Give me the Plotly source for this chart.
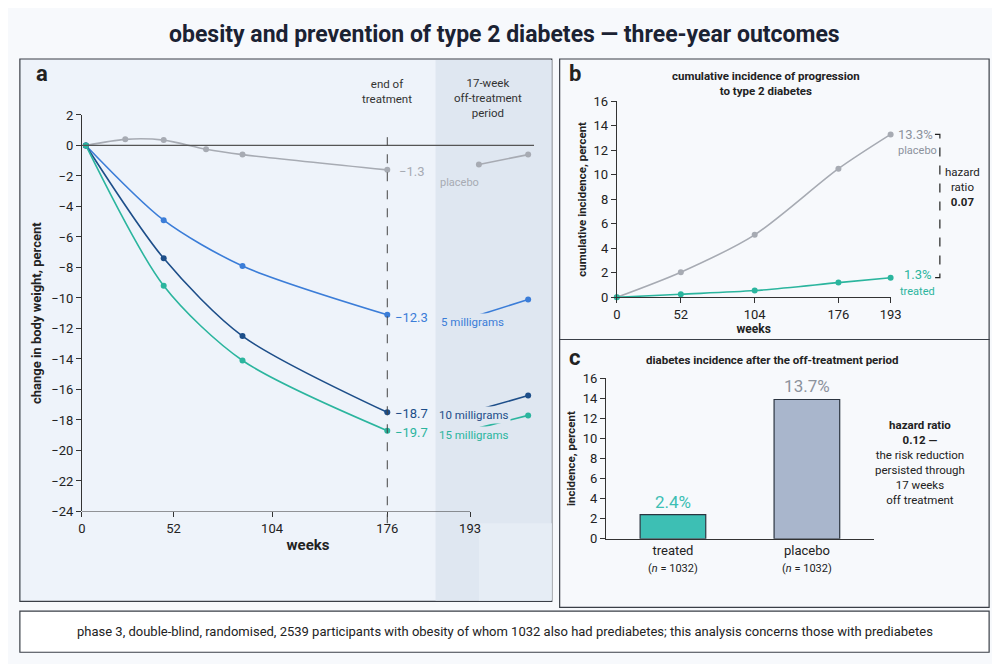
import plotly.graph_objects as go

# panel a: weight change; x are drawn positions on the (non-linear) week axis
a_ticks = [0, 93, 193, 310, 394]
a_ticklabels = ["0", "52", "104", "176", "193"]
placebo_x = [4, 44, 83, 126, 163, 310]
placebo_y = [0, 0.4, 0.35, -0.25, -0.6, -1.6]
placebo_tail_x = [403, 453]
placebo_tail_y = [-1.25, -0.6]
dose_x = [4, 83, 163, 310]
mg5_y = [0, -4.9, -7.9, -11.1]
mg10_y = [0, -7.4, -12.5, -17.5]
mg15_y = [0, -9.2, -14.1, -18.7]
tail_x = [404, 453]
mg5_tail = [-11.1, -10.1]
mg10_tail = [-17.3, -16.4]
mg15_tail = [-18.5, -17.7]

# panel b: cumulative incidence
b_ticks = [0, 65, 140, 225, 278]
b_ticklabels = ["0", "52", "104", "176", "193"]
b_placebo = [0, 2.05, 5.1, 10.5, 13.3]
b_treated = [0, 0.25, 0.55, 1.2, 1.6]

# panel c: bars
c_groups = ["treated<br><span style='font-size:11px'>(<i>n</i> = 1032)</span>",
            "placebo<br><span style='font-size:11px'>(<i>n</i> = 1032)</span>"]
c_values = [2.4, 13.9]
c_labels = ["2.4%", "13.7%"]

GREY = "#a7abb3"
BLUE5 = "#3b7dd8"
NAVY = "#1d4e89"
TEAL = "#2bb59e"
FONT = "Roboto"

fig = go.Figure()

def line(x, y, color, xa="x", ya="y", marker=True, width=1.6):
    fig.add_trace(go.Scatter(
        x=x, y=y, xaxis=xa, yaxis=ya,
        mode="lines+markers" if marker else "lines",
        line=dict(color=color, width=width, shape="spline", smoothing=0.8),
        marker=dict(size=6, color=color), cliponaxis=False, showlegend=False))

line(placebo_x, placebo_y, GREY)
line(placebo_tail_x, placebo_tail_y, GREY)
for ys, tail, col in [(mg5_y, mg5_tail, BLUE5), (mg10_y, mg10_tail, NAVY), (mg15_y, mg15_tail, TEAL)]:
    line(dose_x, ys, col)
    line(tail_x, tail, col, marker=False)
    fig.add_trace(go.Scatter(x=tail_x[-1:], y=tail[-1:], mode="markers", marker=dict(size=6, color=col),
                             cliponaxis=False, showlegend=False))

line(b_ticks, b_placebo, GREY, "x2", "y2")
line(b_ticks, b_treated, TEAL, "x2", "y2")

fig.add_trace(go.Bar(x=c_groups, y=c_values, xaxis="x3", yaxis="y3", width=0.49,
                     marker=dict(color=["#3dbfb4", "#a9b6cc"], line=dict(color="#2b3440", width=1.2)),
                     text=c_labels, textposition="outside", cliponaxis=False,
                     textfont=dict(size=17, color=["#3dbfb4", "#8c929c"]), showlegend=False))

ax = dict(showgrid=False, zeroline=False, showline=True, linecolor="#333", ticks="outside",
          ticklen=5, tickcolor="#333", tickfont=dict(size=13, color="#222"))
fig.update_layout(
    width=1000, height=664, margin=dict(l=0, r=0, t=0, b=0),
    paper_bgcolor="#f7f9fc", plot_bgcolor="rgba(0,0,0,0)",
    font=dict(family=FONT, color="#222"),
    xaxis=dict(ax, domain=[0.071, 0.530], range=[0, 459], tickvals=a_ticks, ticktext=a_ticklabels,
               showline=False, title=dict(text="<b>weeks</b>", font=dict(size=15), standoff=4)),
    yaxis=dict(ax, domain=[0.235, 0.846], range=[-24, 2], dtick=2,
               title=dict(text="<b>change in body weight, percent</b>", font=dict(size=13), standoff=6)),
    xaxis2=dict(ax, domain=[0.614, 0.892], range=[0, 278], tickvals=b_ticks, ticktext=b_ticklabels,
                anchor="y2", title=dict(text="<b>weeks</b>", font=dict(size=12), standoff=2)),
    yaxis2=dict(ax, domain=[0.565, 0.867], range=[0, 16], dtick=2, anchor="x2",
                title=dict(text="<b>cumulative incidence, percent</b>", font=dict(size=11.5), standoff=4)),
    xaxis3=dict(ax, domain=[0.603, 0.875], anchor="y3", ticks="", tickfont=dict(size=13)),
    yaxis3=dict(ax, domain=[0.193, 0.440], range=[0, 16], dtick=2, anchor="x3",
                title=dict(text="<b>incidence, percent</b>", font=dict(size=11.5), standoff=4)),
)

shapes = [
    dict(type="rect", xref="paper", yref="paper", x0=0.008, x1=0.548, y0=1-600/664, y1=1-45/664,
         fillcolor="#eef3fa", line=dict(color="#3a3f47", width=1.2), layer="below"),
    dict(type="rect", xref="paper", yref="paper", x0=0.43, x1=0.548, y0=1-599/664, y1=1-46/664,
         fillcolor="#dfe7f1", line=dict(width=0), layer="below"),
    dict(type="rect", xref="paper", yref="paper", x0=0.474, x1=0.548, y0=1-599/664, y1=1-520/664,
         fillcolor="#e6edf5", line=dict(width=0), layer="below"),
    dict(type="rect", xref="paper", yref="paper", x0=0.556, x1=0.992, y0=1-332/664, y1=1-45/664,
         fillcolor="#f7f9fc", line=dict(color="#3a3f47", width=1.2), layer="below"),
    dict(type="rect", xref="paper", yref="paper", x0=0.556, x1=0.992, y0=1-606/664, y1=1-332/664,
         fillcolor="#f7f9fc", line=dict(color="#3a3f47", width=1.2), layer="below"),
    dict(type="rect", xref="paper", yref="paper", x0=0.008, x1=0.992, y0=1-652/664, y1=1-610/664,
         fillcolor="#ffffff", line=dict(color="#3a3f47", width=1.2), layer="below"),
    # panel a zero line and bottom axis
    dict(type="line", xref="x", yref="y", x0=0, x1=459, y0=0, y1=0, line=dict(color="#555", width=1.3)),
    dict(type="line", xref="x", yref="y", x0=0, x1=394, y0=-24, y1=-24, line=dict(color="#333", width=1.2)),
    dict(type="line", xref="x", yref="paper", x0=310, x1=310, y0=1-520/664, y1=1-125/664,
         line=dict(color="#444", width=1, dash="dash")),
    # hazard bracket in b
    dict(type="path", xref="paper", yref="y2",
         path="M 0.937 13.3 L 0.942 13.3 L 0.942 1.6 L 0.937 1.6",
         line=dict(color="#222", width=1.2, dash="dash")),
]
fig.update_layout(shapes=shapes)

ann = []
def t(text, x, y, xref="paper", yref="paper", size=12, color="#222", xanchor="center", yanchor="middle", bg=None, align="center"):
    d = dict(text=text, x=x, y=y, xref=xref, yref=yref, showarrow=False, xanchor=xanchor,
             yanchor=yanchor, align=align, font=dict(size=size, color=color, family=FONT))
    if bg:
        d["bgcolor"] = bg
    ann.append(d)

t("<b>obesity and prevention of type 2 diabetes — three-year outcomes</b>", 0.5, 1-20/664, size=23, color="#1b2233")
t("<b>a</b>", 0.022, 1-60/664, size=22, xanchor="left")
t("<b>b</b>", 0.563, 1-60/664, size=22, xanchor="left")
t("<b>c</b>", 0.563, 1-350/664, size=22, xanchor="left")
t("end of<br>treatment", 310, 1-78/664, xref="x", size=11.5, color="#333")
t("17-week<br>off-treatment<br>period", 412, 1-85/664, xref="x", size=11.5, color="#333")
t("−1.3", 320, -1.7, "x", "y", size=13, color=GREY, xanchor="left", bg="#eef3fa")
t("placebo", 361, -2.4, "x", "y", size=11, color=GREY, xanchor="left")
t("−12.3", 316, -11.3, "x", "y", size=13, color=BLUE5, xanchor="left", bg="#eef3fa")
t("5 milligrams", 362, -11.6, "x", "y", size=11.5, color=BLUE5, xanchor="left", bg="#dfe7f1")
t("−18.7", 316, -17.6, "x", "y", size=13, color=NAVY, xanchor="left", bg="#eef3fa")
t("10 milligrams", 360, -17.7, "x", "y", size=11.5, color=NAVY, xanchor="left", bg="#dfe7f1")
t("−19.7", 316, -18.8, "x", "y", size=13, color=TEAL, xanchor="left", bg="#eef3fa")
t("15 milligrams", 360, -19.0, "x", "y", size=11.5, color=TEAL, xanchor="left", bg="#dfe7f1")
t("<b>cumulative incidence of progression<br>to type 2 diabetes</b>", 0.765, 1-70/664, size=11.5)
t("13.3%", 0.897, 13.3, "paper", "y2", size=13, color="#8c929c", xanchor="left")
t("placebo", 0.897, 12.0, "paper", "y2", size=11, color="#8c929c", xanchor="left")
t("1.3%", 0.904, 1.9, "paper", "y2", size=13, color=TEAL, xanchor="left")
t("treated", 0.899, 0.5, "paper", "y2", size=11, color=TEAL, xanchor="left")
t("hazard<br>ratio<br><b>0.07</b>", 0.965, 9.0, "paper", "y2", size=11.5)
t("<b>diabetes incidence after the off-treatment period</b>", 0.772, 1-353/664, size=11.5)
t("<b>hazard ratio<br>0.12 —</b><br>the risk reduction<br>persisted through<br>17 weeks<br>off treatment",
  0.922, 1-458/664, size=11.5)
t("phase 3, double-blind, randomised, 2539 participants with obesity of whom 1032 also had prediabetes; "
  "this analysis concerns those with prediabetes", 0.5, 1-631/664, size=13, color="#222")
fig.update_layout(annotations=ann)

fig.write_html("out.html")
